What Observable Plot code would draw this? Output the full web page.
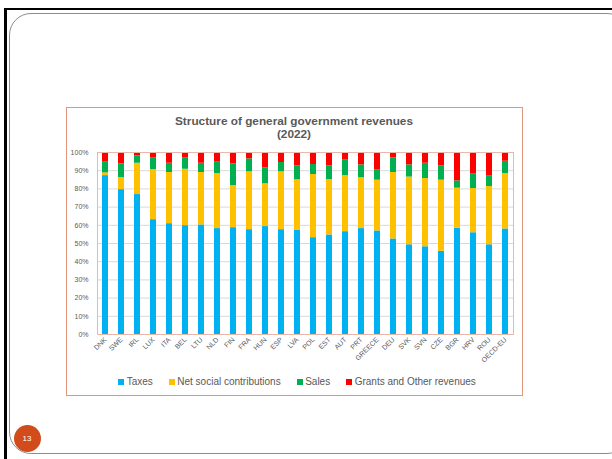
<!DOCTYPE html>
<html>
<head>
<meta charset="utf-8">
<script src="https://cdn.jsdelivr.net/npm/d3@7"></script>
<script src="https://cdn.jsdelivr.net/npm/@observablehq/plot@0.6"></script>
<style>
  html, body { margin: 0; padding: 0; background: #fff; }
  #page { position: relative; width: 612px; height: 459px; overflow: hidden; font-family: "Liberation Sans", Arial, sans-serif; }
  .blk-top { position: absolute; left: 4px; top: 8px; width: 612px; height: 2px; background: #000; }
  .blk-left { position: absolute; left: 4px; top: 8px; width: 3px; height: 460px; background: #000; }
  .slide { position: absolute; left: 9px; top: 13px; width: 620px; height: 441px; border: 1px solid #8c8c8c; border-radius: 22px; box-sizing: border-box; }
  .box { position: absolute; left: 65.5px; top: 107px; width: 457px; height: 289px; border: 1px solid #E3957B; box-sizing: border-box; }
  .title { position: absolute; left: 66px; width: 456px; top: 114.6px; text-align: center; font-weight: bold; font-size: 11.8px; line-height: 13px; color: #595959; }
  #chart { position: absolute; left: 62px; top: 142px; }
  .legend { position: absolute; left: 69px; width: 456px; top: 376px; display: flex; justify-content: center; gap: 16px; font-size: 10px; line-height: 12px; color: #595959; }
  .legend span.item { display: flex; align-items: center; }
  .legend i { display: inline-block; width: 6px; height: 6px; margin-right: 2.5px; }
  .pnum { position: absolute; left: 13.5px; top: 424.5px; width: 27px; height: 27px; border-radius: 50%; background: #D24B1B; color: #fff; font-size: 8px; line-height: 27px; text-align: center; }
</style>
</head>
<body>
<div id="page">
  <div class="blk-top"></div>
  <div class="blk-left"></div>
  <div class="slide"></div>
  <div class="box"></div>
  <div class="title">Structure of general government revenues<br>(2022)</div>
  <div id="chart"></div>
  <div class="legend" id="legend"></div>
  <div class="pnum">13</div>
</div>
<script>
const countries = ["DNK","SWE","IRL","LUX","ITA","BEL","LTU","NLD","FIN","FRA","HUN","ESP","LVA","POL","EST","AUT","PRT","GREECE","DEU","SVK","SVN","CZE","BGR","HRV","ROU","OECD-EU"];
const taxes = [87.3,79.6,76.9,63.1,60.9,59.8,60.2,58.2,58.7,57.6,59.3,57.6,57.4,53.2,54.7,56.5,58.2,56.9,52.5,49.3,48.2,45.7,58.4,55.9,49.3,58.0];
const netSocial = [1.5,6.6,17.2,27.5,28.1,31.0,28.8,30.2,23.1,31.8,23.5,31.8,27.6,34.7,30.4,30.8,27.9,27.9,36.5,37.2,37.5,39.1,22.0,24.3,32.0,30.4];
const sales = [6.2,7.6,4.1,6.3,5.1,6.1,5.1,6.6,12.0,7.1,8.8,5.1,7.7,5.5,7.6,8.5,7.1,5.8,8.1,6.7,8.4,7.9,4.0,8.2,5.7,6.8];
const grantsOther = [5.0,6.2,1.8,3.1,5.9,3.1,5.9,5.0,6.2,3.5,8.4,5.5,7.3,6.6,7.3,4.2,6.8,9.4,2.9,6.8,5.9,7.3,15.6,11.6,13.0,4.8];
const seriesNames = ["Taxes","Net social contributions","Sales","Grants and Other revenues"];
const seriesColors = ["#00B0F0","#FFC000","#00B050","#FF0000"];
const yTicks = [0,10,20,30,40,50,60,70,80,90,100];

const seriesValues = [taxes, netSocial, sales, grantsOther];
const rows = [];
countries.forEach((c, i) => {
  seriesNames.forEach((s, j) => rows.push({country: c, series: s, value: seriesValues[j][i]}));
});

const chart = Plot.plot({
  width: 456,
  height: 232,
  marginLeft: 35,
  marginRight: 5,
  marginTop: 10,
  marginBottom: 40,
  style: {fontFamily: "'Liberation Sans', Arial, sans-serif", fontSize: "7px", color: "#595959", background: "transparent"},
  x: {domain: countries, label: null, paddingInner: 0.62, paddingOuter: 0.31, tickRotate: -45, tickSize: 0, tickPadding: 4},
  y: {domain: [0, 100], ticks: yTicks, tickFormat: d => d + "%", label: null, tickSize: 0, tickPadding: 9},
  color: {domain: seriesNames, range: seriesColors},
  marks: [
    Plot.gridY(yTicks, {stroke: "#D9D9D9", strokeOpacity: 1}),
    Plot.barY(rows, {x: "country", y: "value", fill: "series", order: seriesNames}),
    Plot.frame({stroke: "#EDB6A6", strokeOpacity: 1})
  ]
});
document.getElementById("chart").appendChild(chart);

const legend = document.getElementById("legend");
seriesNames.forEach((s, j) => {
  const item = document.createElement("span");
  item.className = "item";
  const sw = document.createElement("i");
  sw.style.background = seriesColors[j];
  item.appendChild(sw);
  item.appendChild(document.createTextNode(s));
  legend.appendChild(item);
});
</script>
</body>
</html>
